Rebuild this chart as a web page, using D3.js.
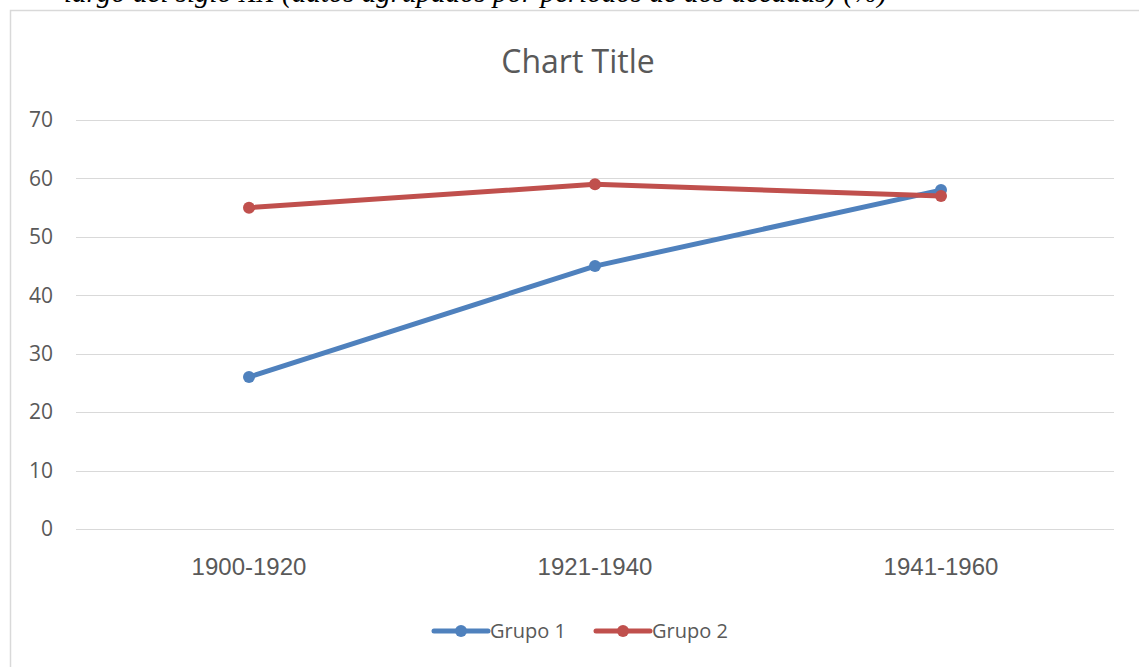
<!DOCTYPE html>
<html>
<head>
<meta charset="utf-8">
<script src="https://cdn.jsdelivr.net/npm/d3@7"></script>
<style>
  body { margin: 0; background: #fff; }
  text { font-family: "Open Sans", "Noto Sans", sans-serif; }
</style>
</head>
<body>
<div id="chart"></div>
<script>
// Data
const categories = ['1900-1920', '1921-1940', '1941-1960'];
const grupo1 = [26, 45, 58];
const grupo2 = [55, 59, 57];
const yTicks = [0, 10, 20, 30, 40, 50, 60, 70];
const seriesNames = ['Grupo 1', 'Grupo 2'];
const colors = ['#4f81bd', '#c0504d'];

const W = 1139, H = 667;
const plot = { left: 76, right: 1114, top: 120, bottom: 529 };

const svg = d3.select('#chart')
  .append('svg')
  .attr('width', W)
  .attr('height', H);

// Caption from the document, cut off at the top
svg.append('text')
  .attr('x', 64)
  .attr('y', 2)
  .style('font-family', '"Liberation Serif", "Times New Roman", serif')
  .style('font-style', 'italic')
  .style('font-size', '29px')
  .attr('fill', '#000')
  .text('largo del siglo XX (datos agrupados por períodos de dos décadas) (%)');

// Chart frame
svg.append('path')
  .attr('d', `M10.5,${H} V10.5 H${W}`)
  .attr('fill', 'none')
  .attr('stroke', '#d9d9d9')
  .attr('stroke-width', 1.5);

// Scales
const x = d3.scaleBand()
  .domain(categories)
  .range([plot.left, plot.right]);
const y = d3.scaleLinear()
  .domain([0, 70])
  .range([plot.bottom, plot.top]);

// Gridlines
svg.append('g')
  .selectAll('line')
  .data(yTicks)
  .enter()
  .append('line')
  .attr('x1', plot.left)
  .attr('x2', plot.right)
  .attr('y1', d => Math.round(y(d)) + 0.5)
  .attr('y2', d => Math.round(y(d)) + 0.5)
  .attr('stroke', '#d9d9d9')
  .attr('stroke-width', 1.2);

// Y axis labels
const yAxis = svg.append('g')
  .attr('transform', `translate(${plot.left - 23},0)`)
  .call(d3.axisLeft(y).tickValues(yTicks).tickSize(0).tickPadding(0));
yAxis.select('.domain').remove();
yAxis.selectAll('text')
  .attr('fill', '#595959')
  .style('font-size', '21px')
  .style('font-family', '"Open Sans", "Noto Sans", sans-serif');

// X axis labels
const xAxis = svg.append('g')
  .attr('transform', `translate(0,${plot.bottom + 29})`)
  .call(d3.axisBottom(x).tickSize(0).tickPadding(0));
xAxis.select('.domain').remove();
xAxis.selectAll('text')
  .attr('fill', '#595959')
  .style('font-size', '24px')
  .style('font-family', '"Liberation Sans", Arial, sans-serif');

// Title
svg.append('text')
  .attr('x', 578)
  .attr('y', 73)
  .attr('text-anchor', 'middle')
  .attr('fill', '#595959')
  .style('font-size', '32px')
  .text('Chart Title');

// Lines
const line = d3.line()
  .x((d, i) => x(categories[i]) + x.bandwidth() / 2)
  .y(d => y(d));

[grupo1, grupo2].forEach((values, s) => {
  svg.append('path')
    .datum(values)
    .attr('d', line)
    .attr('fill', 'none')
    .attr('stroke', colors[s])
    .attr('stroke-width', 5)
    .attr('stroke-linejoin', 'round')
    .attr('stroke-linecap', 'round');
  svg.append('g')
    .selectAll('circle')
    .data(values)
    .enter()
    .append('circle')
    .attr('cx', (d, i) => x(categories[i]) + x.bandwidth() / 2)
    .attr('cy', d => y(d))
    .attr('r', 6)
    .attr('fill', colors[s]);
});

// Legend
const legendX = [434, 596];
const legend = svg.append('g')
  .selectAll('g')
  .data(seriesNames)
  .enter()
  .append('g')
  .attr('transform', (d, i) => `translate(${legendX[i]},631)`);
legend.append('line')
  .attr('x1', 0)
  .attr('x2', 54)
  .attr('stroke', (d, i) => colors[i])
  .attr('stroke-width', 5)
  .attr('stroke-linecap', 'round');
legend.append('circle')
  .attr('cx', 27)
  .attr('r', 6)
  .attr('fill', (d, i) => colors[i]);
legend.append('text')
  .attr('x', 56)
  .attr('y', 7)
  .attr('fill', '#595959')
  .style('font-size', '20px')
  .text(d => d);
</script>
</body>
</html>
